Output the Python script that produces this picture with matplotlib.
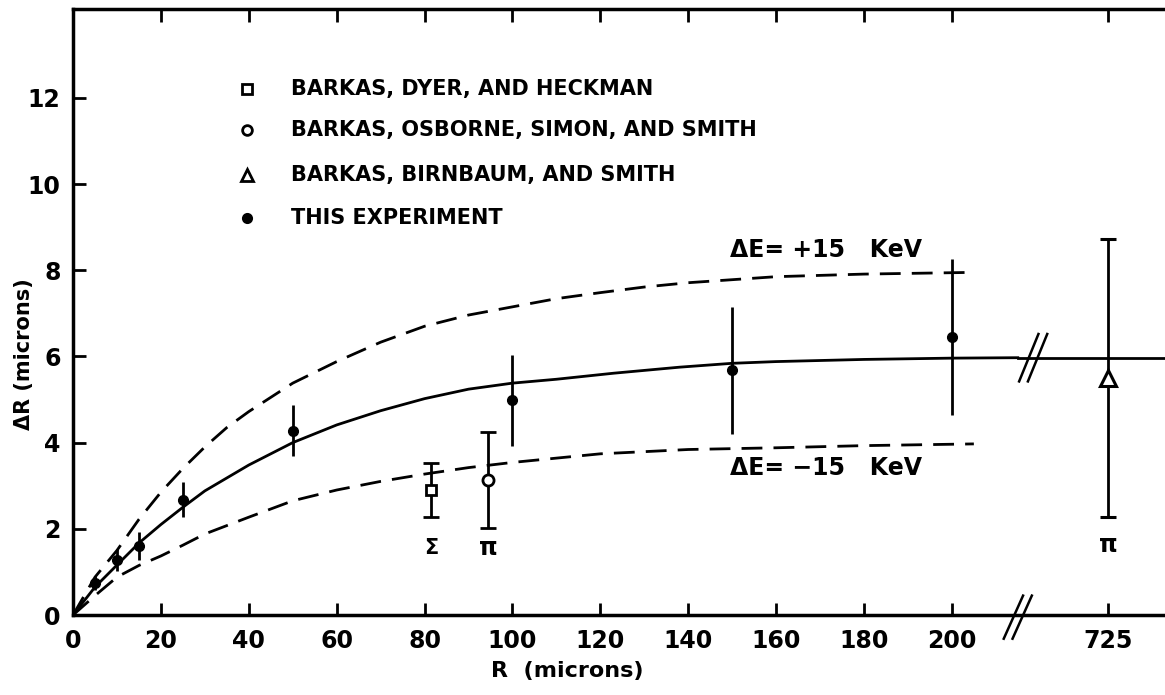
import matplotlib
matplotlib.use("Agg")
import matplotlib.pyplot as plt

plt.rcParams["font.family"] = ["DejaVu Sans"]
plt.rcParams["font.weight"] = "bold"
plt.rcParams["lines.scale_dashes"] = False

# ===== 데이터 =====
# this experiment (filled dots, no caps)
R_DOTS = [5, 10, 15, 25, 50, 100, 150, 200]
DR_DOTS = [0.74, 1.28, 1.60, 2.68, 4.28, 4.98, 5.68, 6.45]
ERR_DOTS = [0.17, 0.26, 0.33, 0.40, 0.60, 1.06, 1.47, 1.80]

# other groups
R_SQ, DR_SQ, ERR_SQ = [81.5], [2.90], [0.62]        # Barkas, Dyer, Heckman
R_CI, DR_CI, ERR_CI = [94.5], [3.13], [1.12]        # Barkas, Osborne, Simon, Smith
R_TRI, DR_TRI, ERR_TRI = [725], [5.50], [3.23]      # Barkas, Birnbaum, Smith

# curves
SOLID_R = [0, 5, 10, 15, 20, 25, 30, 40, 50, 60, 70, 80, 90, 100, 110, 123,
           138, 150, 160, 180, 200, 215]
SOLID_DR = [0, 0.65, 1.16, 1.67, 2.10, 2.50, 2.88, 3.48, 4.00, 4.41, 4.74, 5.02,
            5.24, 5.38, 5.47, 5.61, 5.75, 5.84, 5.88, 5.93, 5.96, 5.97]
PLUS_R = [0, 5, 10, 15, 20, 25, 30, 35, 40, 45, 50, 60, 70, 80, 90, 100, 110,
          120, 130, 140, 160, 180, 205]
PLUS_DR = [0, 0.88, 1.50, 2.22, 2.85, 3.40, 3.90, 4.35, 4.72, 5.05, 5.38, 5.88,
           6.33, 6.70, 6.96, 7.15, 7.34, 7.48, 7.61, 7.71, 7.85, 7.91, 7.95]
MINUS_R = [0, 5, 10, 15, 20, 25, 30, 40, 50, 60, 70, 80, 90, 100, 120, 140,
           160, 180, 205]
MINUS_DR = [0, 0.45, 0.88, 1.15, 1.37, 1.62, 1.88, 2.27, 2.65, 2.90, 3.10, 3.27,
            3.42, 3.54, 3.74, 3.84, 3.88, 3.93, 3.97]

X_TICKS = [0, 20, 40, 60, 80, 100, 120, 140, 160, 180, 200, 725]
Y_TICKS = [0, 2, 4, 6, 8, 10, 12]

LEGEND_LABELS = [
    "BARKAS, DYER, AND HECKMAN",
    "BARKAS, OSBORNE, SIMON, AND SMITH",
    "BARKAS, BIRNBAUM, AND SMITH",
    "THIS EXPERIMENT",
]
LEGEND_Y = [12.2, 11.25, 10.2, 9.2]

# ===== 축 배치 (끊긴 x축) =====
X_MAX = 248.5
Y_MAX = 14.06
POS_725 = 235.5       # 725 가 그려지는 위치
AXIS_BREAK = 215.0    # x축 // 위치
CURVE_BREAK = 218.5   # 곡선 // 위치


def xpos(r):
    """실제 R 값을 그림상의 x 위치로 변환 (200 이후는 끊김)."""
    return [POS_725 if v > 300 else v for v in r]


LW = 2.0
fig = plt.figure(figsize=(11.65, 6.95), dpi=100)
ax = fig.add_axes([0.0627, 0.1151, 0.9373, 0.8719])
ax.set_xlim(0, X_MAX)
ax.set_ylim(0, Y_MAX)

# curves
ax.plot(SOLID_R, SOLID_DR, color="black", lw=LW)
ax.plot([SOLID_R[-1], X_MAX], [SOLID_DR[-1], SOLID_DR[-1]], color="black", lw=LW)
ax.plot(PLUS_R, PLUS_DR, color="black", lw=LW, linestyle=(0, (15, 8)))
ax.plot(MINUS_R, MINUS_DR, color="black", lw=LW, linestyle=(0, (15, 8)))

# data
ax.errorbar(xpos(R_DOTS), DR_DOTS, yerr=ERR_DOTS, fmt="o", color="black",
            ms=7, elinewidth=LW, capsize=0)
ax.errorbar(xpos(R_SQ), DR_SQ, yerr=ERR_SQ, fmt="s", color="black", mfc="white",
            mew=2, ms=7.5, elinewidth=LW, capsize=6, capthick=LW)
ax.errorbar(xpos(R_CI), DR_CI, yerr=ERR_CI, fmt="o", color="black", mfc="white",
            mew=2, ms=8, elinewidth=LW, capsize=6, capthick=LW)
ax.errorbar(xpos(R_TRI), DR_TRI, yerr=ERR_TRI, fmt="^", color="black", mfc="white",
            mew=2.2, ms=11, elinewidth=LW, capsize=6, capthick=LW)

# particle labels
ax.text(R_SQ[0], 1.55, "Σ", ha="center", va="center", fontsize=15)
ax.text(R_CI[0], 1.55, "π", ha="center", va="center", fontsize=17)
ax.text(POS_725, 1.62, "π", ha="center", va="center", fontsize=17)

# curve labels
ax.text(149.5, 8.47, "ΔE= +15   KeV", ha="left", va="center", fontsize=17)
ax.text(149.5, 3.40, "ΔE= −15   KeV", ha="left", va="center", fontsize=17)

# legend (hand drawn)
mk = dict(color="black", lw=0, mew=2)
LX, TX = 39.6, 49.5
ax.plot([LX], [LEGEND_Y[0]], marker="s", mfc="white", ms=7, **mk)
ax.plot([LX], [LEGEND_Y[1]], marker="o", mfc="white", ms=7, **mk)
ax.plot([LX], [LEGEND_Y[2]], marker="^", mfc="white", ms=8, **mk)
ax.plot([LX], [LEGEND_Y[3]], marker="o", ms=6, **mk)
for y, lab in zip(LEGEND_Y, LEGEND_LABELS):
    ax.text(TX, y, lab, ha="left", va="center", fontsize=15)

# break marks "//"
for dx in (-1.0, 1.0):
    ax.plot([AXIS_BREAK + dx - 2.2, AXIS_BREAK + dx + 2.2], [-0.55, 0.45],
            color="black", lw=1.8, clip_on=False)
    ax.plot([CURVE_BREAK + dx - 2.2, CURVE_BREAK + dx + 2.2],
            [SOLID_DR[-1] - 0.55, SOLID_DR[-1] + 0.55], color="black", lw=1.8)

# axes style
for side in ("left", "bottom", "top"):
    ax.spines[side].set_linewidth(2.5)
ax.spines["right"].set_visible(False)
ax.set_xticks(xpos(X_TICKS))
ax.set_xticklabels([str(v) for v in X_TICKS])
ax.set_yticks(Y_TICKS)
ax.tick_params(axis="both", direction="in", length=9, width=2, labelsize=17, pad=9)
ax.tick_params(axis="x", top=True, pad=10)
ax.tick_params(axis="y", right=False)

ax.set_xlabel("R  (microns)", fontsize=16, fontweight="bold")
ax.xaxis.set_label_coords(0.453, -0.076)
ax.set_ylabel("ΔR (microns)", fontsize=15, fontweight="bold")
ax.yaxis.set_label_coords(-0.036, 0.43)

fig.savefig("out.png", dpi=100)
